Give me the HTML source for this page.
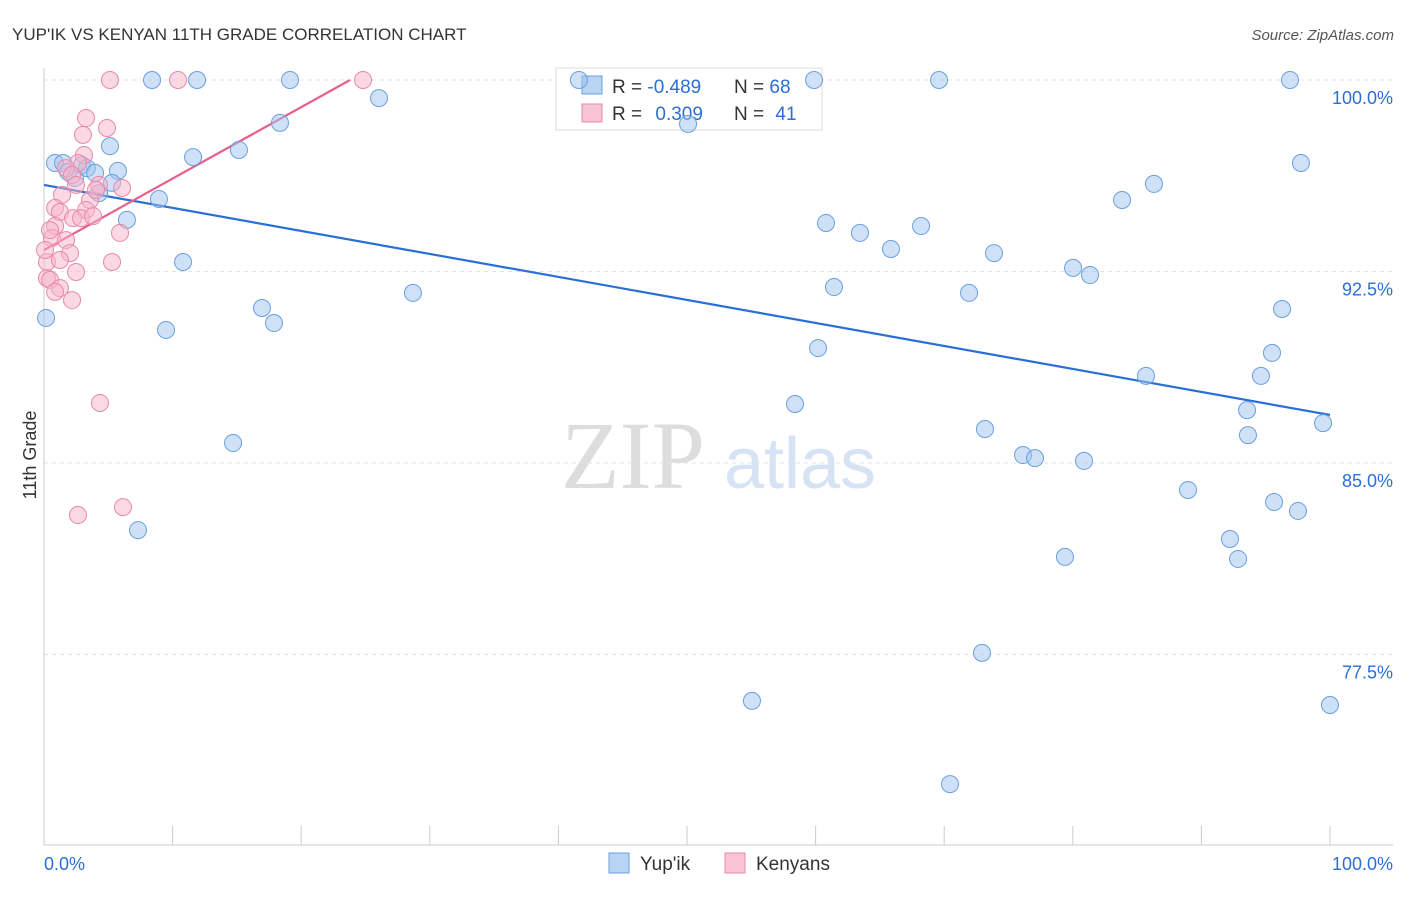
<!DOCTYPE html>
<html><head><meta charset="utf-8"><style>
body{margin:0;background:#fff;font-family:"Liberation Sans",sans-serif}
</style></head><body>
<svg id="c" width="1406" height="892" xmlns="http://www.w3.org/2000/svg">
<text x="12" y="40" font-size="17" fill="#333">YUP'IK VS KENYAN 11TH GRADE CORRELATION CHART</text>
<text x="1394" y="40" font-size="15" fill="#555" font-style="italic" text-anchor="end">Source: ZipAtlas.com</text>
<text x="36" y="455" font-size="18" fill="#333" transform="rotate(-90 36 455)" text-anchor="middle">11th Grade</text>
<g>
<text x="633" y="488" font-size="96" font-family="Liberation Serif" fill="#ddd" text-anchor="middle">ZIP</text>
<text x="800" y="488" font-size="72" fill="#d5e3f5" text-anchor="middle">atlas</text>
</g>
<g id="grid"></g><g id="axes"></g>
<g>
<rect x="556" y="68" width="266" height="62" fill="#fff" stroke="#ddd"/>
<rect x="582" y="76" width="20" height="18" fill="#b9d3f3" stroke="#6b9fe0"/>
<rect x="582" y="104" width="20" height="18" fill="#f8c4d4" stroke="#e88aa8"/>
<text x="612" y="93" font-size="19" fill="#333">R = <tspan fill="#2a6fd6">-0.489</tspan></text>
<text x="734" y="93" font-size="19" fill="#333">N = <tspan fill="#2a6fd6">68</tspan></text>
<text x="612" y="120" font-size="19" fill="#333">R = <tspan fill="#2a6fd6" dx="8">0.309</tspan></text>
<text x="734" y="120" font-size="19" fill="#333">N = <tspan fill="#2a6fd6" dx="6">41</tspan></text>
</g>
<g id="lines"></g><g id="pts"></g>
<g>
<rect x="609" y="853" width="20" height="20" fill="#b9d3f3" stroke="#6b9fe0"/>
<text x="640" y="870" font-size="19" fill="#333">Yup'ik</text>
<rect x="725" y="853" width="20" height="20" fill="#f8c4d4" stroke="#e88aa8"/>
<text x="756" y="870" font-size="19" fill="#333">Kenyans</text>
</g>
</svg>
<script>
const yTicks=[100,92.5,85,77.5];
const yTickLabels=["100.0%","92.5%","85.0%","77.5%"];
const xLabels=["0.0%","100.0%"];
const blueX=[0.86,1.48,1.87,2.41,2.95,3.34,3.97,4.28,5.13,5.75,5.29,6.45,8.40,11.90,8.94,9.49,10.81,11.59,14.70,15.16,16.95,17.88,18.35,19.13,26.05,28.69,7.31,0.16,41.60,50.08,55.05,58.40,59.88,60.19,60.81,61.43,63.45,65.86,68.20,69.60,70.45,71.93,72.94,73.17,73.87,76.13,77.06,79.39,80.02,80.87,81.34,83.83,85.69,86.31,88.96,92.22,92.85,93.55,93.62,94.63,95.49,95.65,96.27,96.89,97.51,97.74,99.46,100];
const blueY=[96.75,96.75,96.40,96.16,96.67,96.55,96.36,95.57,97.41,96.44,95.97,94.52,100,100,95.34,90.21,92.87,96.98,85.78,97.26,91.07,90.48,98.32,100,99.29,91.66,82.37,90.68,100,98.28,75.68,87.31,100,89.50,94.40,91.89,94.01,93.38,94.28,100,72.42,91.66,77.56,86.33,93.22,85.31,85.19,81.32,92.64,85.08,92.36,95.30,88.41,95.93,83.94,82.02,81.24,87.07,86.09,88.41,89.31,83.47,91.03,100,83.12,96.75,86.56,75.52];
const pinkX=[5.13,10.42,24.81,3.27,4.90,3.03,3.11,2.64,1.71,2.18,2.49,4.28,6.07,1.40,3.58,0.86,1.24,3.27,2.26,2.88,3.81,0.86,0.62,1.71,2.02,5.91,0.23,1.24,5.29,2.49,0.23,0.47,1.24,0.86,2.18,4.35,2.64,6.14,0.08,0.47,4.04];
const pinkY=[100,100,100,98.51,98.12,97.85,97.06,96.75,96.55,96.28,95.89,95.89,95.77,95.50,95.30,94.99,94.83,94.91,94.59,94.59,94.67,94.28,93.81,93.73,93.22,94.01,92.87,92.95,92.87,92.48,92.24,92.17,91.85,91.70,91.38,87.35,82.96,83.27,93.34,94.12,95.69];
const blueTrendX=[0,100], blueTrendY=[95.89,86.88];
const pinkTrendX=[0,23.8], pinkTrendY=[93.34,100];
const NS="http://www.w3.org/2000/svg";
const sx=v=>44+v*12.86, sy=v=>80+(100-v)*25.53;
function mk(t,a,p){const e=document.createElementNS(NS,t);for(const k in a)e.setAttribute(k,a[k]);document.getElementById(p).appendChild(e);return e;}
yTicks.forEach((t,i)=>{
 const g=mk('line',{x1:44,x2:1393,y1:sy(t),y2:sy(t),stroke:'#e3e3e3','stroke-dasharray':'4,4'},'grid');
 
 
 const l=mk('text',{x:1393,y:sy(t)+24,'font-size':18,fill:'#2a6fd6','text-anchor':'end'},'axes');
 l.textContent=yTickLabels[i];
 
 
});
const ax=mk('line',{x1:44,x2:44,y1:68,y2:845,stroke:'#ccc'},'axes');


const bx=mk('line',{x1:44,x2:1393,y1:845,y2:845,stroke:'#ccc'},'axes');


for(let i=0;i<=10;i++){const t=mk('line',{x1:sx(i*10),x2:sx(i*10),y1:826,y2:845,stroke:'#ccc'},'axes');
 
 }
[[0,'start',44],[1,'end',1393]].forEach(([i,a,x])=>{const l=mk('text',{x:x,y:870,'font-size':18,fill:'#2a6fd6','text-anchor':a},'axes');l.textContent=xLabels[i];
 
 });
blueX.forEach((x,i)=>{const c=mk('circle',{cx:sx(x),cy:sy(blueY[i]),r:8.5,fill:'rgba(160,196,240,0.5)',stroke:'#6b9fe0','stroke-width':1},'pts');
 
 });
pinkX.forEach((x,i)=>{const c=mk('circle',{cx:sx(x),cy:sy(pinkY[i]),r:8.5,fill:'rgba(245,180,202,0.5)',stroke:'#e88aa8','stroke-width':1},'pts');
 
 });
const bl=mk('line',{x1:sx(blueTrendX[0]),y1:sy(blueTrendY[0]),x2:sx(blueTrendX[1]),y2:sy(blueTrendY[1]),stroke:'#2a6fd6','stroke-width':2.2},'lines');


const pl=mk('line',{x1:sx(pinkTrendX[0]),y1:sy(pinkTrendY[0]),x2:sx(pinkTrendX[1]),y2:sy(pinkTrendY[1]),stroke:'#e8608a','stroke-width':2.2},'lines');


</script>
</body></html>
